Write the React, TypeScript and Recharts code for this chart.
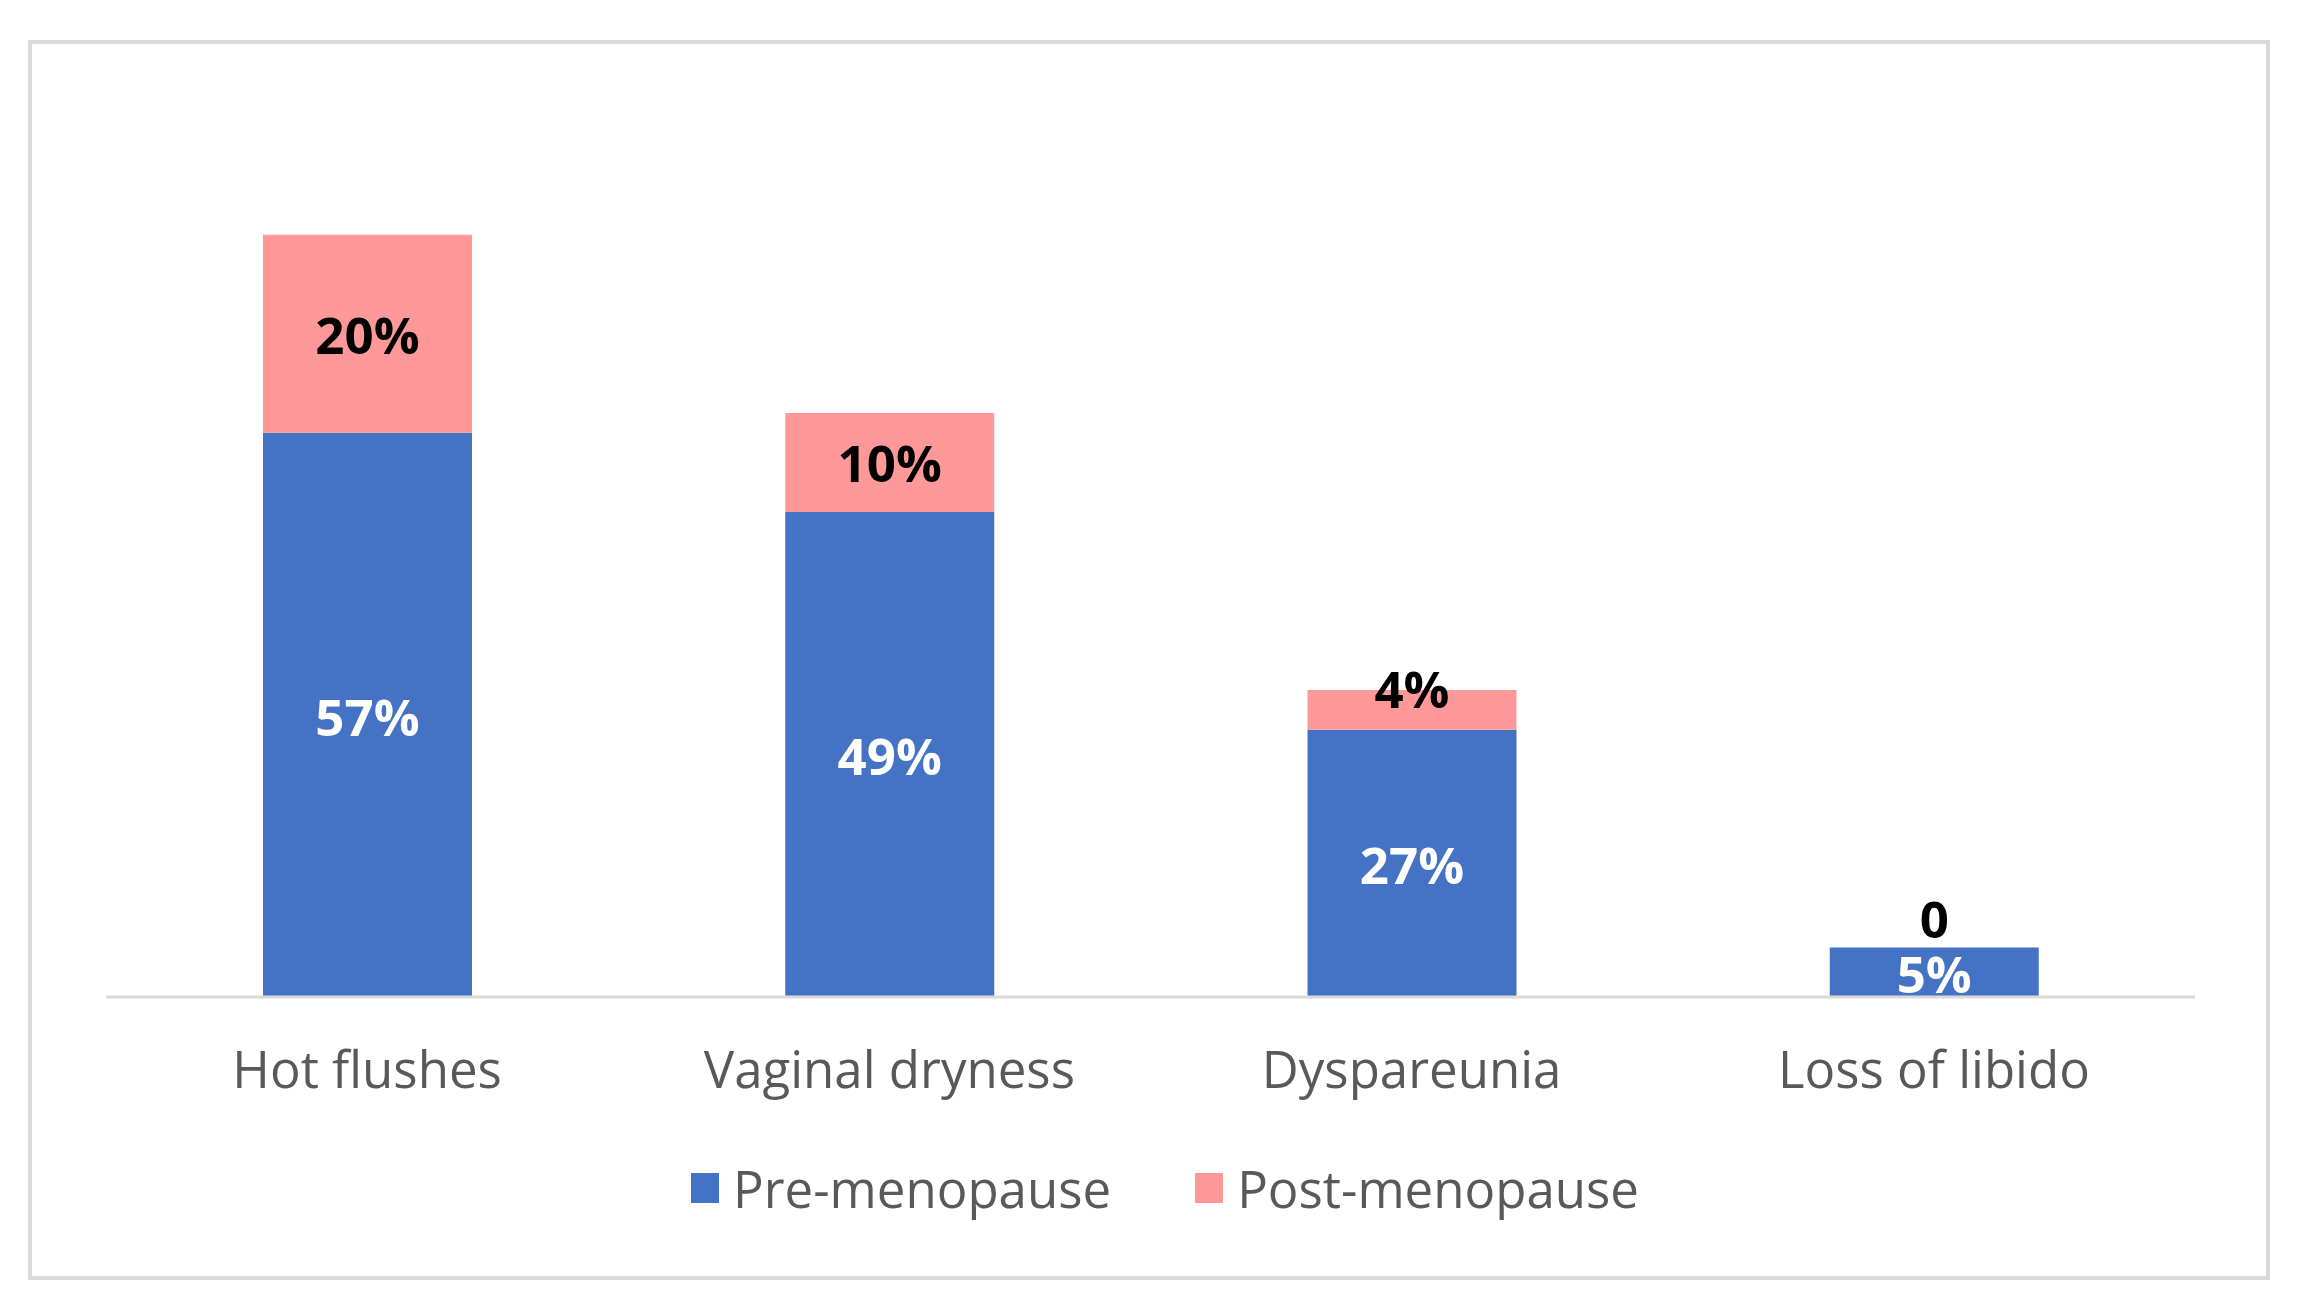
import { BarChart, Bar, XAxis, YAxis, Legend, LabelList, Rectangle } from 'recharts'

const categories = ['Hot flushes', 'Vaginal dryness', 'Dyspareunia', 'Loss of libido']
const preMenopause = [57, 49, 27, 5]
const postMenopause = [20, 10, 4, 0]

const BLUE = '#4472c4'
const PINK = '#ff9999'
const FONT = '"Open Sans", sans-serif'

const data = categories.map((name, i) => ({
  name,
  pre: preMenopause[i],
  post: postMenopause[i],
}))

const fmt = (v: number) => (v === 0 ? '0' : `${v}%`)

function PreLabel(props: any) {
  const { x, y, width, height, value } = props
  return (
    <text
      x={x + width / 2}
      y={y + height / 2 + 1}
      textAnchor="middle"
      dominantBaseline="central"
      fill="#ffffff"
      fontFamily={FONT}
      fontWeight={700}
      fontSize={51}
    >
      {fmt(value)}
    </text>
  )
}

// post segment drawn by hand so the label still shows when the value is 0
function PostShape(props: any) {
  const { x, y, width, height, post } = props
  let cy = y + height / 2
  if (height === 0) cy = y - 30
  else if (height < 50) cy = y + height / 2 - 22
  return (
    <g>
      {height > 0 && <Rectangle x={x} y={y} width={width} height={height} fill={PINK} />}
      <text
        x={x + width / 2}
        y={cy}
        textAnchor="middle"
        dominantBaseline="central"
        fill="#000000"
        fontFamily={FONT}
        fontWeight={700}
        fontSize={51}
      >
        {fmt(post)}
      </text>
    </g>
  )
}

function CategoryTick(props: any) {
  const { x, y, payload } = props
  return (
    <text
      x={x}
      y={y + 71}
      textAnchor="middle"
      dominantBaseline="central"
      fill="#595959"
      fontFamily={FONT}
      fontSize={51}
    >
      {payload.value}
    </text>
  )
}

function LegendContent() {
  const items = [
    { label: 'Pre-menopause', color: BLUE },
    { label: 'Post-menopause', color: PINK },
  ]
  return (
    <div style={{ display: 'flex', justifyContent: 'center', gap: 84, fontFamily: FONT, paddingLeft: 26 }}>
      {items.map((it) => (
        <div key={it.label} style={{ display: 'flex', alignItems: 'center' }}>
          <div style={{ width: 28, height: 30, background: it.color, marginRight: 14 }} />
          <span style={{ fontSize: 51, color: '#595959', lineHeight: '66px' }}>{it.label}</span>
        </div>
      ))}
    </div>
  )
}

export default function App() {
  return (
    <div style={{ position: 'absolute', left: 0, top: 0, width: 2304, height: 1314, background: '#ffffff' }}>
      <div
        style={{
          position: 'absolute',
          left: 28,
          top: 40,
          width: 2242,
          height: 1240,
          boxSizing: 'border-box',
          border: '4px solid #d9d9d9',
        }}
      />
      <div style={{ position: 'absolute', left: 0, top: 0 }}>
        <BarChart
          width={2304}
          height={1314}
          data={data}
          margin={{ top: 106, right: 109, bottom: 217, left: 106 }}
        >
          <XAxis
            dataKey="name"
            height={100}
            tickSize={0}
            tickMargin={0}
            tick={<CategoryTick />}
            axisLine={{ stroke: '#d9d9d9', strokeWidth: 3 }}
          />
          <YAxis hide domain={[0, 90]} />
          <Legend
            verticalAlign="middle"
            align="center"
            layout="horizontal"
            content={<LegendContent />}
            wrapperStyle={{ top: 1155, left: 0, width: 2304 }}
          />
          <Bar dataKey="pre" stackId="a" fill={BLUE} barSize={209} isAnimationActive={false}>
            <LabelList dataKey="pre" content={<PreLabel />} />
          </Bar>
          <Bar
            dataKey="post"
            stackId="a"
            fill={PINK}
            barSize={209}
            shape={<PostShape />}
            isAnimationActive={false}
          />
        </BarChart>
      </div>
    </div>
  )
}
